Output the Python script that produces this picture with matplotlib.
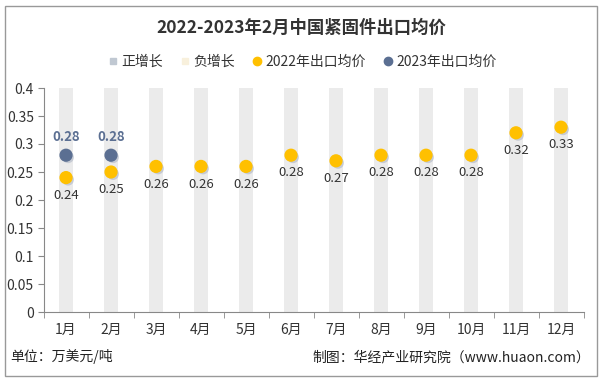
import numpy as np
import matplotlib.pyplot as plt
import matplotlib.patheffects as pe
from matplotlib.patches import Rectangle
from matplotlib.lines import Line2D

plt.rcParams['font.family'] = ['Noto Sans CJK SC', 'DejaVu Sans']

# --- data ---
months = ['1月', '2月', '3月', '4月', '5月', '6月', '7月', '8月', '9月', '10月', '11月', '12月']
price_2022 = [0.24, 0.25, 0.26, 0.26, 0.26, 0.28, 0.27, 0.28, 0.28, 0.28, 0.32, 0.33]
price_2023 = [0.28, 0.28]
pos_growth = [0.4] * 12   # background bars (正增长)

c22 = '#FFC000'
c23 = '#5B6F92'
cbar = '#EBEBEB'

fig = plt.figure(figsize=(6.02, 3.81), dpi=100)
ax = fig.add_axes([43.5 / 602, 1 - 312 / 381, 540 / 602, 224 / 381])

x = np.arange(len(months))
ax.bar(x, pos_growth, width=0.29, color=cbar, zorder=1)

shadow = [pe.SimplePatchShadow(offset=(1.5, -1.5), shadow_rgbFace='#9aa4b8', alpha=0.45), pe.Normal()]
ax.scatter(x, price_2022, s=72, color=c22, zorder=3, path_effects=shadow)
x23 = np.arange(len(price_2023))
ax.scatter(x23, price_2023, s=72, color=c23, zorder=4, path_effects=shadow)

for xi, v in zip(x, price_2022):
    ax.annotate(f'{v:.2f}', (xi, v), xytext=(0, -8), textcoords='offset points',
                ha='center', va='top', fontsize=9.5, color='#333333')
for xi, v in zip(x23, price_2023):
    ax.annotate(f'{v:.2f}', (xi, v), xytext=(0, 8), textcoords='offset points',
                ha='center', va='bottom', fontsize=9.5, color=c23, fontweight='bold')

ax.set_xlim(-0.5, len(months) - 0.5)
ax.set_ylim(0, 0.4)
ax.set_yticks(np.arange(0, 0.41, 0.05))
ax.set_yticklabels(['0', '0.05', '0.1', '0.15', '0.2', '0.25', '0.3', '0.35', '0.4'])
ax.set_xticks(x)
ax.set_xticklabels(months)
ax.set_xticks(np.arange(-0.5, len(months), 1), minor=True)
ax.tick_params(axis='x', which='major', length=0, pad=8, labelsize=10, colors='#333333')
ax.tick_params(axis='x', which='minor', length=4, color='#888888')
ax.tick_params(axis='y', length=4, color='#888888', labelsize=10, labelcolor='#333333', pad=3)
for s in ['top', 'right']:
    ax.spines[s].set_visible(False)
for s in ['left', 'bottom']:
    ax.spines[s].set_color('#888888')

fig.text(0.5, 1 - 28 / 381, '2022-2023年2月中国紧固件出口均价', ha='center', va='center',
         fontsize=12.5, fontweight='bold', color='#333333')

handles = [
    Line2D([], [], marker='s', linestyle='', color='#C0C8D2', markersize=5),
    Line2D([], [], marker='s', linestyle='', color='#F8F0DC', markersize=5),
    Line2D([], [], marker='o', linestyle='', color=c22, markersize=6),
    Line2D([], [], marker='o', linestyle='', color=c23, markersize=6),
]
fig.legend(handles, ['正增长', '负增长', '2022年出口均价', '2023年出口均价'], loc='center',
           bbox_to_anchor=(0.5, 1 - 62 / 381), ncol=4, frameon=False, fontsize=10,
           handletextpad=0.1, columnspacing=1.1, handlelength=1.0, labelcolor='#333333')

fig.text(10 / 602, 1 - 357 / 381, '单位：万美元/吨', ha='left', va='center', fontsize=10, color='#222222')
fig.text(590 / 602, 1 - 357 / 381, '制图：华经产业研究院（www.huaon.com）', ha='right', va='center',
         fontsize=10, color='#222222')

fig.add_artist(Rectangle((5 / 602, 5 / 381), 592 / 602, 370 / 381, transform=fig.transFigure,
                         fill=False, edgecolor='#999999', linewidth=1))

fig.savefig('out.png', dpi=100)
